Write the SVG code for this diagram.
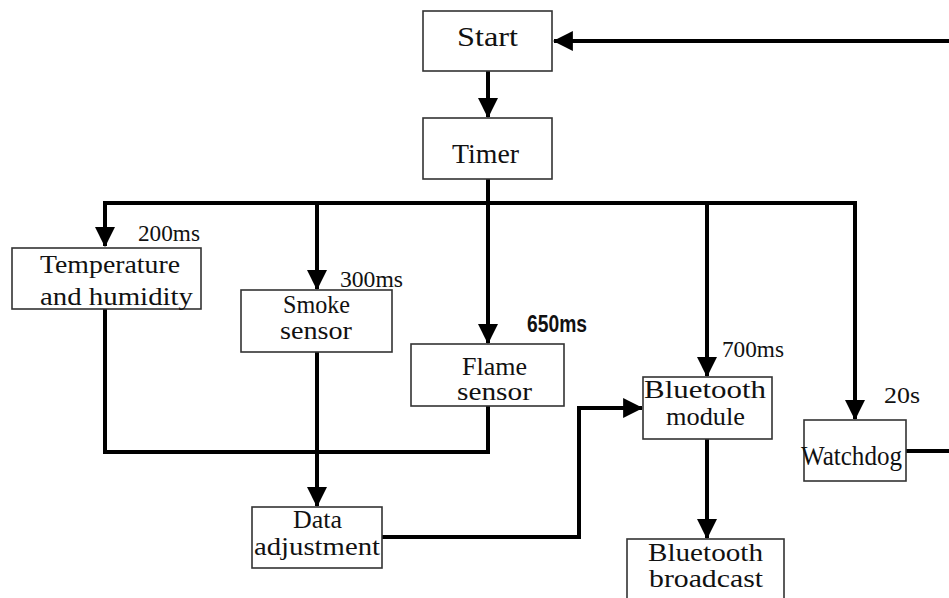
<svg xmlns="http://www.w3.org/2000/svg" width="949" height="598" viewBox="0 0 949 598">
<style>
.box{fill:#fff;stroke:#333;stroke-width:1.6}
.t{font-family:"Liberation Serif","Times New Roman",serif;font-size:25px;fill:#111}
.t1{font-family:"Liberation Serif","Times New Roman",serif;font-size:28px;fill:#111}
.lbl{font-family:"Liberation Serif","Times New Roman",serif;font-size:24px;fill:#111}
.bold{font-family:"Liberation Sans Narrow","Liberation Sans",Arial,sans-serif;font-size:23px;font-weight:bold;fill:#111}
.c{fill:none;stroke:#000;stroke-width:4}
</style>
<defs>
<marker id="ah" markerUnits="userSpaceOnUse" markerWidth="20" markerHeight="20" viewBox="0 0 18 18" refX="17" refY="9" orient="auto">
<path d="M0,0 L18,9 L0,18 z" fill="#000"/>
</marker>
</defs>
<rect width="949" height="598" fill="#fff"/>
<g id="connectors">
<path class="c" d="M488,71 V117" marker-end="url(#ah)"/>
<path class="c" d="M488,179 V203"/>
<path class="c" d="M103,203 H857"/>
<path class="c" d="M105,203 V246" marker-end="url(#ah)"/>
<path class="c" d="M317,203 V289" marker-end="url(#ah)"/>
<path class="c" d="M488,203 V343" marker-end="url(#ah)"/>
<path class="c" d="M707,203 V376" marker-end="url(#ah)"/>
<path class="c" d="M855,203 V419" marker-end="url(#ah)"/>
<path class="c" d="M105,309 V452 H488 V406"/>
<path class="c" d="M317,352 V506" marker-end="url(#ah)"/>
<path class="c" d="M382,537 H579 V408 H642" marker-end="url(#ah)"/>
<path class="c" d="M707,439 V538" marker-end="url(#ah)"/>
<path class="c" d="M906,451 H951"/>
<path class="c" d="M951,41 H554" marker-end="url(#ah)"/>
</g>
<g id="start">
<rect class="box" x="423" y="11" width="129" height="60"/>
<text class="t1" x="457" y="46" textLength="61" lengthAdjust="spacingAndGlyphs">Start</text>
</g>
<g id="timer">
<rect class="box" x="423" y="118" width="129" height="61"/>
<text class="t1" x="452" y="163" textLength="67" lengthAdjust="spacingAndGlyphs">Timer</text>
</g>
<g id="temperature">
<rect class="box" x="12" y="248" width="189" height="61"/>
<text class="t" x="40" y="273" textLength="140" lengthAdjust="spacingAndGlyphs">Temperature</text>
<text class="t" x="40" y="305" textLength="153" lengthAdjust="spacingAndGlyphs">and humidity</text>
</g>
<g id="smoke">
<rect class="box" x="241" y="290" width="151" height="62"/>
<text class="t" x="283" y="313" textLength="67" lengthAdjust="spacingAndGlyphs">Smoke</text>
<text class="t" x="280" y="339" textLength="72" lengthAdjust="spacingAndGlyphs">sensor</text>
</g>
<g id="flame">
<rect class="box" x="411" y="344" width="153" height="62"/>
<text class="t" x="462" y="375" textLength="65" lengthAdjust="spacingAndGlyphs">Flame</text>
<text class="t" x="457" y="400" textLength="75" lengthAdjust="spacingAndGlyphs">sensor</text>
</g>
<g id="bt-module">
<rect class="box" x="643" y="377" width="129" height="62"/>
<text class="t" x="644" y="398" textLength="122" lengthAdjust="spacingAndGlyphs">Bluetooth</text>
<text class="t" x="666" y="425" textLength="79" lengthAdjust="spacingAndGlyphs">module</text>
</g>
<g id="watchdog">
<rect class="box" x="804" y="420" width="102" height="61"/>
<text class="t1" x="801" y="465" textLength="101" lengthAdjust="spacingAndGlyphs">Watchdog</text>
</g>
<g id="data-adjustment">
<rect class="box" x="252" y="507" width="130" height="61"/>
<text class="t" x="293" y="528" textLength="49" lengthAdjust="spacingAndGlyphs">Data</text>
<text class="t" x="254" y="555" textLength="126" lengthAdjust="spacingAndGlyphs">adjustment</text>
</g>
<g id="bt-broadcast">
<rect class="box" x="627" y="539" width="157" height="70"/>
<text class="t" x="648" y="561" textLength="115" lengthAdjust="spacingAndGlyphs">Bluetooth</text>
<text class="t" x="649" y="587" textLength="114" lengthAdjust="spacingAndGlyphs">broadcast</text>
</g>
<g id="labels">
<text class="lbl" x="138" y="241" textLength="62" lengthAdjust="spacingAndGlyphs">200ms</text>
<text class="lbl" x="340" y="287" textLength="63" lengthAdjust="spacingAndGlyphs">300ms</text>
<text class="bold" x="527" y="332" textLength="60" lengthAdjust="spacingAndGlyphs">650ms</text>
<text class="lbl" x="722" y="357" textLength="62" lengthAdjust="spacingAndGlyphs">700ms</text>
<text class="lbl" x="884" y="403" textLength="36" lengthAdjust="spacingAndGlyphs">20s</text>
</g>
</svg>
